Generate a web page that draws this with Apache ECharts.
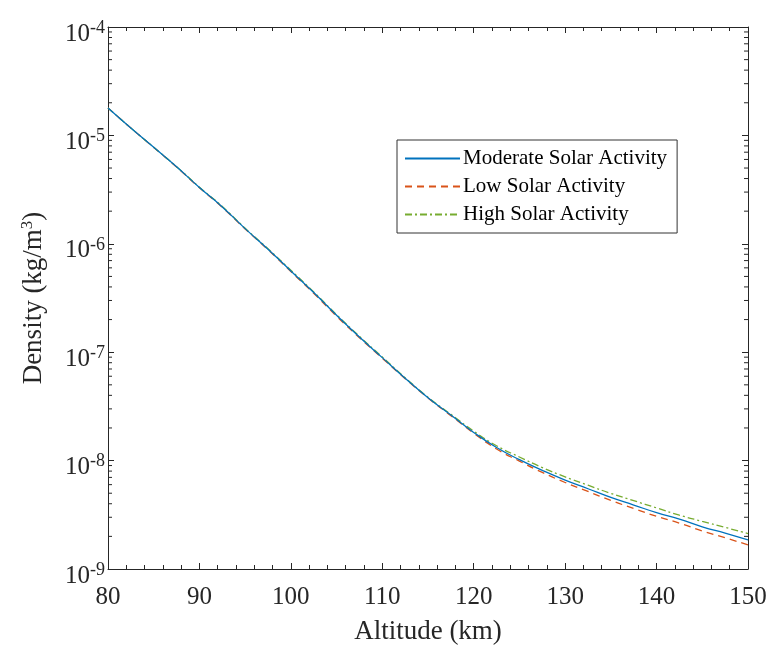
<!DOCTYPE html>
<html>
<head>
<meta charset="utf-8">
<script src="https://cdn.jsdelivr.net/npm/echarts@6/dist/echarts.min.js"></script>
<style>
  html, body { margin: 0; padding: 0; background: #fff; }
  #chart { width: 771px; height: 645px; }
</style>
</head>
<body>
<div id="chart"></div>
<script>
// altitude in km
var altitude = [80, 82.5, 85, 87.5, 90, 92.5, 95, 97.5, 100, 102.5, 105, 107.5, 110, 112.5, 115,
  117.5, 120, 122.5, 125, 127.5, 130, 132.5, 135, 137.5, 140, 142.5, 145, 147.5, 150]

// density in kg/m^3
var moderate = [1.79e-5, 1.17e-5, 7.76e-6, 5.13e-6, 3.31e-6, 2.19e-6, 1.38e-6, 8.91e-7, 5.62e-7, 3.55e-7,
  2.19e-7, 1.38e-7, 8.91e-8, 5.75e-8, 3.80e-8, 2.63e-8, 1.82e-8, 1.32e-8, 1.02e-8, 8.13e-9,
  6.61e-9, 5.50e-9, 4.57e-9, 3.89e-9, 3.31e-9, 2.88e-9, 2.45e-9, 2.14e-9, 1.86e-9]
var low = [1.79e-5, 1.17e-5, 7.74e-6, 5.11e-6, 3.29e-6, 2.17e-6, 1.37e-6, 8.82e-7, 5.55e-7, 3.49e-7,
  2.15e-7, 1.36e-7, 8.80e-8, 5.70e-8, 3.78e-8, 2.60e-8, 1.79e-8, 1.28e-8, 9.89e-9, 7.78e-9,
  6.28e-9, 5.19e-9, 4.29e-9, 3.62e-9, 3.06e-9, 2.65e-9, 2.24e-9, 1.94e-9, 1.67e-9]
var high = [1.79e-5, 1.17e-5, 7.78e-6, 5.15e-6, 3.33e-6, 2.21e-6, 1.39e-6, 9.00e-7, 5.70e-7, 3.60e-7,
  2.22e-7, 1.40e-7, 9.02e-8, 5.82e-8, 3.84e-8, 2.67e-8, 1.87e-8, 1.37e-8, 1.08e-8, 8.63e-9,
  7.08e-9, 5.93e-9, 4.98e-9, 4.27e-9, 3.66e-9, 3.14e-9, 2.75e-9, 2.42e-9, 2.12e-9]

var seriesNames = ['Moderate Solar Activity', 'Low Solar Activity', 'High Solar Activity']
var xTicks = [80, 90, 100, 110, 120, 130, 140, 150]
var yExponents = [-9, -8, -7, -6, -5, -4]

var font = 'Liberation Serif'
var axisColor = '#262626'

function pairs(ys) {
  return altitude.map(function (a, i) { return [a, ys[i]] })
}

// 2..9 x 10^n between the decades, for the minor ticks of the log axis
function minorTickValues() {
  var out = []
  for (var e = yExponents[0]; e < yExponents[yExponents.length - 1]; e++) {
    for (var k = 2; k <= 9; k++) out.push([k * Math.pow(10, e)])
  }
  return out
}

var chart = echarts.init(document.getElementById('chart'))

var tickRich = {
  base: { fontFamily: font, fontSize: 25, color: axisColor },
  sup: { fontFamily: font, fontSize: 18, color: axisColor, verticalAlign: 'bottom', padding: [0, 0, 12, 0] }
}
var nameRich = {
  base: { fontFamily: font, fontSize: 27, color: axisColor },
  sup: { fontFamily: font, fontSize: 17, color: axisColor, verticalAlign: 'bottom', padding: [0, 0, 12, 0] }
}

var yAxisCommon = {
  type: 'log',
  logBase: 10,
  min: 1e-9,
  max: 1e-4,
  axisLine: { show: true, lineStyle: { color: axisColor, width: 1 } },
  axisTick: { show: true, inside: true, length: 6, lineStyle: { color: axisColor } },
  splitLine: { show: false }
}

var xAxisCommon = {
  type: 'value',
  min: 80,
  max: 150,
  interval: 10,
  axisLine: { show: true, onZero: false, lineStyle: { color: axisColor, width: 1 } },
  axisTick: { show: true, inside: true, length: 6, lineStyle: { color: axisColor } },
  minorTick: { show: true, splitNumber: 5, length: 4, lineStyle: { color: axisColor } },
  splitLine: { show: false }
}

chart.setOption({
  animation: false,
  backgroundColor: '#fff',
  grid: { left: 108, right: 23, top: 27, bottom: 76, outerBoundsMode: 'none' },
  legend: {
    data: seriesNames,
    orient: 'vertical',
    left: 397,
    top: 140,
    backgroundColor: '#fff',
    borderColor: '#333',
    borderWidth: 1,
    borderRadius: 0,
    padding: [8, 10, 8, 7],
    itemGap: 7,
    itemWidth: 55,
    itemHeight: 14,
    itemStyle: { color: 'transparent', borderWidth: 0, opacity: 0 },
    textStyle: { fontFamily: font, fontSize: 21, color: '#000', padding: [0, 0, 0, -2] }
  },
  xAxis: [
    Object.assign({}, xAxisCommon, {
      position: 'bottom',
      name: 'Altitude (km)',
      nameLocation: 'middle',
      nameGap: 49,
      nameTextStyle: { fontFamily: font, fontSize: 27, color: axisColor },
      axisLabel: { fontFamily: font, fontSize: 25, color: axisColor, margin: 16 }
    }),
    Object.assign({}, xAxisCommon, {
      position: 'top',
      axisLabel: { show: false }
    })
  ],
  yAxis: [
    Object.assign({}, yAxisCommon, {
      position: 'left',
      name: '{base|Density (kg/m}{sup|3}{base|)}',
      nameLocation: 'middle',
      nameGap: 60,
      nameRotate: 90,
      nameTextStyle: { rich: nameRich },
      axisLabel: {
        margin: 3,
        padding: [14, 0, 0, 0],
        formatter: function (v) {
          var e = Math.round(Math.log10(v))
          return '{base|10}{sup|' + e + '}'
        },
        rich: tickRich
      }
    }),
    Object.assign({}, yAxisCommon, {
      position: 'right',
      axisLabel: { show: false }
    })
  ],
  series: [
    {
      name: seriesNames[0],
      type: 'line',
      data: pairs(moderate),
      smooth: true,
      symbol: 'none',
      color: '#0072BD',
      lineStyle: { width: 1.3, color: '#0072BD' },
      z: 3
    },
    {
      name: seriesNames[1],
      type: 'line',
      data: pairs(low),
      smooth: true,
      symbol: 'none',
      color: '#D95319',
      lineStyle: { width: 1.3, color: '#D95319', type: [7, 5] },
      z: 2
    },
    {
      name: seriesNames[2],
      type: 'line',
      data: pairs(high),
      smooth: true,
      symbol: 'none',
      color: '#77AC30',
      lineStyle: { width: 1.3, color: '#77AC30', type: [7, 3, 2, 3] },
      z: 2
    },
    {
      // minor ticks of the log axes, left and right
      type: 'custom',
      silent: true,
      data: minorTickValues(),
      encode: { y: 0 },
      renderItem: function (params, api) {
        var v = api.value(0)
        var l = api.coord([80, v])
        var r = api.coord([150, v])
        return {
          type: 'group',
          children: [
            { type: 'line', shape: { x1: l[0], y1: l[1], x2: l[0] + 4, y2: l[1] }, style: { stroke: axisColor, lineWidth: 1 } },
            { type: 'line', shape: { x1: r[0], y1: r[1], x2: r[0] - 4, y2: r[1] }, style: { stroke: axisColor, lineWidth: 1 } }
          ]
        }
      },
      z: 1
    }
  ]
})
</script>
</body>
</html>
